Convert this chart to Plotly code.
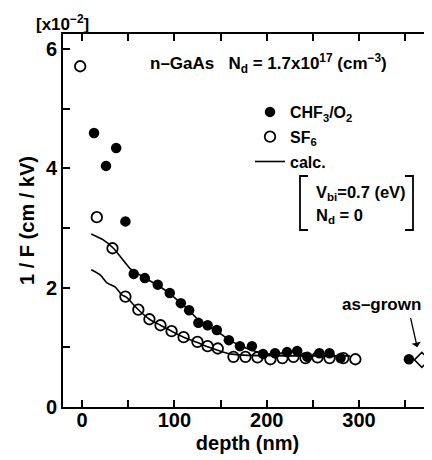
import plotly.graph_objects as go

# ---- data (1/F in units of 1e-2 cm/kV, depth in nm) ----
chf3_depth = [13, 26, 37, 47, 56, 68, 82, 95, 107, 116, 126, 136, 146, 159, 171, 184, 196, 209, 222, 233, 244, 257, 268, 280]
chf3_invF = [4.59, 4.04, 4.34, 3.11, 2.23, 2.16, 2.05, 1.91, 1.74, 1.62, 1.41, 1.37, 1.29, 1.12, 1.02, 1.02, 0.89, 0.90, 0.92, 0.94, 0.84, 0.90, 0.90, 0.82]

sf6_depth = [-2, 16, 33, 47, 61, 73, 85, 97, 110, 125, 136, 147, 164, 177, 190, 204, 217, 229, 242, 255, 268, 283, 296]
sf6_invF = [5.71, 3.18, 2.66, 1.85, 1.63, 1.47, 1.37, 1.27, 1.17, 1.09, 1.02, 0.98, 0.84, 0.84, 0.83, 0.80, 0.82, 0.84, 0.82, 0.83, 0.82, 0.82, 0.80]

calc_upper_depth = [10, 23, 34, 44, 52, 60, 68, 82, 95, 107, 116, 126, 136, 146, 159, 171, 184, 196, 210, 230, 260, 290]
calc_upper_invF = [2.90, 2.80, 2.66, 2.47, 2.32, 2.24, 2.16, 2.04, 1.90, 1.74, 1.62, 1.46, 1.36, 1.27, 1.13, 1.03, 0.95, 0.90, 0.87, 0.86, 0.86, 0.86]

calc_lower_depth = [10, 20, 27, 36, 43, 48, 61, 73, 85, 97, 110, 125, 136, 147, 160, 175, 200, 250, 290]
calc_lower_invF = [2.30, 2.21, 2.08, 2.01, 1.88, 1.84, 1.63, 1.47, 1.37, 1.27, 1.17, 1.08, 1.01, 0.95, 0.89, 0.87, 0.86, 0.86, 0.86]

asgrown_chf3_depth = [354]
asgrown_chf3_invF = [0.80]
asgrown_ref_depth = [368]
asgrown_ref_invF = [0.79]

x_major_dtick = 100
x_minor_dtick = 50
y_major_dtick = 2
y_minor_dtick = 1

FONT = "Liberation Sans, Arial, Helvetica, sans-serif"
OFF = 8  # page body margin in the browser
W, H = 432 - OFF, 460 - OFF
ML, MT = 63 - OFF, 34 - OFF
PW = W - ML
PB = 407 - OFF
MB = H - PB
PH = PB - MT


def px(xr):
    """reference pixel x -> paper x"""
    return (xr - OFF - ML) / PW


def py(yr):
    """reference pixel y -> paper y"""
    return (PB - (yr - OFF)) / PH


fig = go.Figure()

fig.add_trace(go.Scatter(
    x=chf3_depth, y=chf3_invF, mode="markers", name="CHF<sub>3</sub>/O<sub>2</sub>",
    legendgroup="a",
    marker=dict(symbol="circle", size=10.5, color="black", line=dict(width=0))))
fig.add_trace(go.Scatter(
    x=sf6_depth, y=sf6_invF, mode="markers", name="SF<sub>6</sub>",
    legendgroup="b",
    marker=dict(symbol="circle-open", size=10.5, color="black", line=dict(width=1.8))))
fig.add_trace(go.Scatter(
    x=calc_upper_depth, y=calc_upper_invF, mode="lines", name="calc.",
    legendgroup="c",
    line=dict(color="black", width=1.6, shape="spline", smoothing=0.6)))
fig.add_trace(go.Scatter(
    x=calc_lower_depth, y=calc_lower_invF, mode="lines", showlegend=False,
    line=dict(color="black", width=1.6, shape="spline", smoothing=0.6)))
fig.add_trace(go.Scatter(
    x=asgrown_chf3_depth, y=asgrown_chf3_invF, mode="markers", showlegend=False,
    cliponaxis=False,
    marker=dict(symbol="circle", size=10.5, color="black")))
fig.add_trace(go.Scatter(
    x=asgrown_ref_depth, y=asgrown_ref_invF, mode="markers", showlegend=False,
    cliponaxis=False,
    marker=dict(symbol="diamond-open", size=11.5, color="black", line=dict(width=1.5))))

axis_common = dict(
    showline=True, linecolor="black", linewidth=2, mirror="ticks",
    ticks="inside", ticklen=7, tickwidth=1.5, tickcolor="black",
    showgrid=False, zeroline=False,
    tickfont=dict(family=FONT, size=20, color="black", weight="bold"),
)

fig.update_xaxes(
    range=[-20.6, 379], tick0=0, dtick=x_major_dtick,
    minor=dict(ticks="inside", ticklen=7, tickwidth=1.5, tickcolor="black", dtick=x_minor_dtick, tick0=0, showgrid=False),
    ticklabelstandoff=-6,
    title=dict(text="depth (nm)", font=dict(family=FONT, size=20, color="black", weight="bold"), standoff=6),
    **axis_common)
fig.update_yaxes(
    range=[0, 6.25], tick0=0, dtick=y_major_dtick,
    minor=dict(ticks="inside", ticklen=7, tickwidth=1.5, tickcolor="black", dtick=y_minor_dtick, tick0=0, showgrid=False),
    title=dict(text="1 / F (cm / kV)", font=dict(family=FONT, size=20, color="black", weight="bold"), standoff=6),
    **axis_common)

nb = "\u00a0"


def note(text, xr, yr, xanchor="center", size=16):
    return dict(text=text, x=px(xr), y=py(yr), xref="paper", yref="paper",
                xanchor=xanchor, yanchor="middle", showarrow=False,
                font=dict(family=FONT, size=size, color="black", weight="bold"))


annotations = [
    note("[x10<sup>\u22122</sup>]", 62, 23, size=17),
    note("n\u2013GaAs" + nb * 3 + "N<sub>d</sub> = 1.7x10<sup>17</sup> (cm<sup>\u22123</sup>)", 148, 63, xanchor="left", size=17),
    note("V<sub>bi</sub>=0.7 (eV)", 314, 193, xanchor="left", size=16.5),
    note("N<sub>d</sub> = 0", 314, 216, xanchor="left", size=16.5),
    note("as\u2013grown", 381, 304, size=17),
    dict(text="", x=363, y=1.0, xref="x", yref="y", ax=-7, ay=-31,
         showarrow=True, arrowhead=1, arrowsize=1.2, arrowwidth=1.3, arrowcolor="black"),
]

shapes = [
    dict(type="path", xref="paper", yref="paper", line=dict(color="black", width=1.8),
         path=f"M {px(308)} {py(176)} L {px(300)} {py(176)} L {px(300)} {py(230)} L {px(308)} {py(230)}"),
    dict(type="path", xref="paper", yref="paper", line=dict(color="black", width=1.8),
         path=f"M {px(405)} {py(176)} L {px(413)} {py(176)} L {px(413)} {py(230)} L {px(405)} {py(230)}"),
]

fig.update_layout(
    width=W, height=H,
    margin=dict(l=ML, r=0, t=MT, b=MB, autoexpand=False),
    paper_bgcolor="white", plot_bgcolor="white",
    font=dict(family=FONT, color="black"),
    showlegend=True,
    legend=dict(x=px(250), y=py(95), xanchor="left", yanchor="top",
                bgcolor="rgba(0,0,0,0)", borderwidth=0, tracegroupgap=1,
                font=dict(family=FONT, size=16, color="black", weight="bold")),
    annotations=annotations, shapes=shapes,
)

fig.write_html("out.html")
